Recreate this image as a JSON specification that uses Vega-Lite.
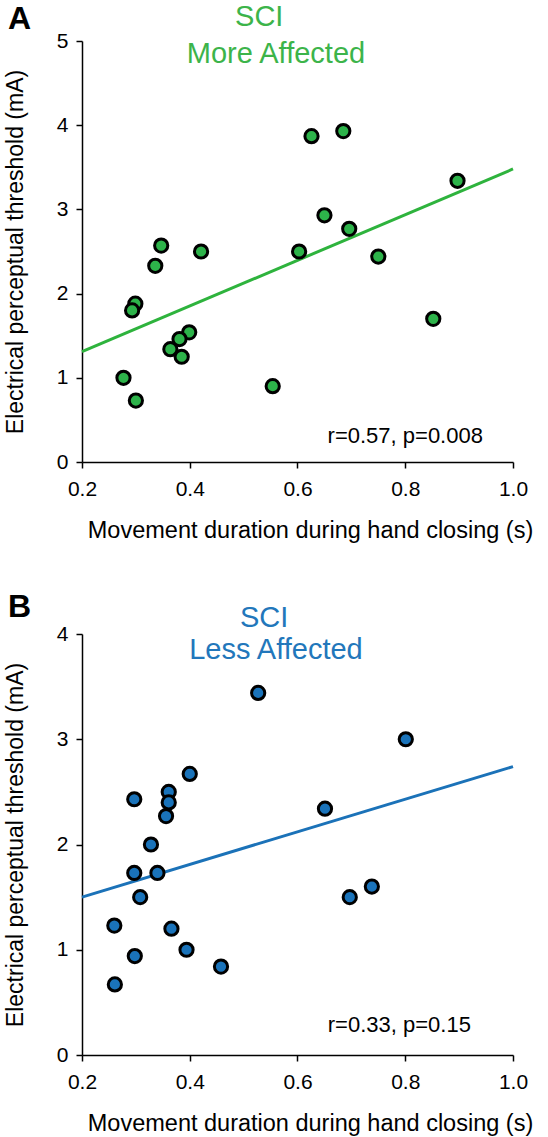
{
  "$schema": "https://vega.github.io/schema/vega-lite/v6.json",
  "background": "white",
  "padding": {"left": 3, "top": 2, "right": 5, "bottom": 5},
  "bounds": "flush",
  "spacing": 172,
  "config": {
    "view": {"stroke": null},
    "font": "Liberation Sans",
    "axis": {
      "grid": false,
      "domainColor": "black",
      "domainWidth": 1.5,
      "tickColor": "black",
      "tickWidth": 1.5,
      "tickSize": 6,
      "labelFont": "Liberation Sans",
      "labelFontSize": 21,
      "labelColor": "black",
      "titleFont": "Liberation Sans",
      "titleFontSize": 23,
      "titleFontWeight": "normal",
      "titleColor": "black"
    }
  },
  "datasets": {
    "pts": [
      {"panel": "A", "dur": 0.347, "thr": 2.57},
      {"panel": "A", "dur": 0.336, "thr": 2.33},
      {"panel": "A", "dur": 0.421, "thr": 2.50},
      {"panel": "A", "dur": 0.603, "thr": 2.50},
      {"panel": "A", "dur": 0.299, "thr": 1.88},
      {"panel": "A", "dur": 0.293, "thr": 1.80},
      {"panel": "A", "dur": 0.399, "thr": 1.54},
      {"panel": "A", "dur": 0.381, "thr": 1.46},
      {"panel": "A", "dur": 0.364, "thr": 1.34},
      {"panel": "A", "dur": 0.385, "thr": 1.25},
      {"panel": "A", "dur": 0.277, "thr": 1.00},
      {"panel": "A", "dur": 0.300, "thr": 0.73},
      {"panel": "A", "dur": 0.554, "thr": 0.90},
      {"panel": "A", "dur": 0.626, "thr": 3.87},
      {"panel": "A", "dur": 0.685, "thr": 3.93},
      {"panel": "A", "dur": 0.897, "thr": 3.34},
      {"panel": "A", "dur": 0.650, "thr": 2.93},
      {"panel": "A", "dur": 0.696, "thr": 2.77},
      {"panel": "A", "dur": 0.750, "thr": 2.44},
      {"panel": "A", "dur": 0.852, "thr": 1.70},
      {"panel": "B", "dur": 0.527, "thr": 3.44},
      {"panel": "B", "dur": 0.400, "thr": 2.67},
      {"panel": "B", "dur": 0.361, "thr": 2.50},
      {"panel": "B", "dur": 0.361, "thr": 2.40},
      {"panel": "B", "dur": 0.356, "thr": 2.27},
      {"panel": "B", "dur": 0.297, "thr": 2.43},
      {"panel": "B", "dur": 0.328, "thr": 2.00},
      {"panel": "B", "dur": 0.297, "thr": 1.73},
      {"panel": "B", "dur": 0.340, "thr": 1.73},
      {"panel": "B", "dur": 0.308, "thr": 1.50},
      {"panel": "B", "dur": 0.260, "thr": 1.23},
      {"panel": "B", "dur": 0.366, "thr": 1.20},
      {"panel": "B", "dur": 0.394, "thr": 1.00},
      {"panel": "B", "dur": 0.298, "thr": 0.94},
      {"panel": "B", "dur": 0.458, "thr": 0.84},
      {"panel": "B", "dur": 0.261, "thr": 0.67},
      {"panel": "B", "dur": 0.801, "thr": 3.00},
      {"panel": "B", "dur": 0.651, "thr": 2.34},
      {"panel": "B", "dur": 0.738, "thr": 1.60},
      {"panel": "B", "dur": 0.697, "thr": 1.50}
    ],
    "fit": [
      {"panel": "A", "dur": 0.2, "thr": 1.31},
      {"panel": "A", "dur": 1.0, "thr": 3.48},
      {"panel": "B", "dur": 0.2, "thr": 1.50},
      {"panel": "B", "dur": 1.0, "thr": 2.74}
    ],
    "ann": [
      {"panel": "A", "kind": "letter", "label": "A", "dur": 0.084, "thr": 5.14},
      {"panel": "A", "kind": "title", "label": "SCI", "dur": 0.529, "thr": 5.18},
      {"panel": "A", "kind": "title", "label": "More Affected", "dur": 0.560, "thr": 4.74},
      {"panel": "A", "kind": "stat", "label": "r=0.57, p=0.008", "dur": 0.80, "thr": 0.23},
      {"panel": "B", "kind": "letter", "label": "B", "dur": 0.084, "thr": 4.16},
      {"panel": "B", "kind": "title", "label": "SCI", "dur": 0.538, "thr": 4.065},
      {"panel": "B", "kind": "title", "label": "Less Affected", "dur": 0.560, "thr": 3.76},
      {"panel": "B", "kind": "stat", "label": "r=0.33, p=0.15", "dur": 0.789, "thr": 0.22}
    ]
  },
  "vconcat": [
    {
      "width": 431,
      "height": 421,
      "encoding": {
        "x": {"field": "dur", "type": "quantitative",
              "scale": {"domain": [0.2, 1.0], "nice": false, "zero": false},
              "axis": {"values": [0.2, 0.4, 0.6, 0.8, 1.0], "format": ".1f", "labelFlush": false, "labelBaseline": "alphabetic", "labelPadding": 27, "title": "Movement duration during hand closing (s)", "titleFontSize": 23.5, "titleBaseline": "alphabetic", "titleY": 75, "titleX": 228}},
        "y": {"field": "thr", "type": "quantitative",
              "scale": {"domain": [0, 5], "nice": false},
              "axis": {"values": [0, 1, 2, 3, 4, 5], "format": "d", "labelPadding": 8, "title": "Electrical perceptual threshold (mA)", "titleBaseline": "alphabetic", "titleX": -60}}
      },
      "layer": [
        {"data": {"name": "fit"}, "transform": [{"filter": "datum.panel === 'A'"}],
         "mark": {"type": "line", "color": "#2eb33d", "strokeWidth": 3}},
        {"data": {"name": "pts"}, "transform": [{"filter": "datum.panel === 'A'"}],
         "mark": {"type": "circle", "size": 175, "fill": "#2db34a", "stroke": "black", "strokeWidth": 3, "opacity": 1}},
        {"data": {"name": "ann"}, "transform": [{"filter": "datum.panel === 'A' && datum.kind === 'letter'"}],
         "mark": {"type": "text", "font": "Liberation Sans", "fontSize": 32, "fontWeight": "bold", "color": "black", "align": "center", "baseline": "alphabetic"},
         "encoding": {"text": {"field": "label"}}},
        {"data": {"name": "ann"}, "transform": [{"filter": "datum.panel === 'A' && datum.kind === 'title'"}],
         "mark": {"type": "text", "font": "Liberation Sans", "fontSize": 29, "color": "#3cb44a", "align": "center", "baseline": "alphabetic"},
         "encoding": {"text": {"field": "label"}}},
        {"data": {"name": "ann"}, "transform": [{"filter": "datum.panel === 'A' && datum.kind === 'stat'"}],
         "mark": {"type": "text", "font": "Liberation Sans", "fontSize": 22, "color": "black", "align": "center", "baseline": "alphabetic"},
         "encoding": {"text": {"field": "label"}}}
      ]
    },
    {
      "width": 431,
      "height": 421,
      "encoding": {
        "x": {"field": "dur", "type": "quantitative",
              "scale": {"domain": [0.2, 1.0], "nice": false, "zero": false},
              "axis": {"values": [0.2, 0.4, 0.6, 0.8, 1.0], "format": ".1f", "labelFlush": false, "labelBaseline": "alphabetic", "labelPadding": 27, "title": "Movement duration during hand closing (s)", "titleFontSize": 23.5, "titleBaseline": "alphabetic", "titleY": 75, "titleX": 228}},
        "y": {"field": "thr", "type": "quantitative",
              "scale": {"domain": [0, 4], "nice": false},
              "axis": {"values": [0, 1, 2, 3, 4], "format": "d", "labelPadding": 8, "title": "Electrical perceptual threshold (mA)", "titleBaseline": "alphabetic", "titleX": -60}}
      },
      "layer": [
        {"data": {"name": "fit"}, "transform": [{"filter": "datum.panel === 'B'"}],
         "mark": {"type": "line", "color": "#1b72b8", "strokeWidth": 3}},
        {"data": {"name": "pts"}, "transform": [{"filter": "datum.panel === 'B'"}],
         "mark": {"type": "circle", "size": 175, "fill": "#1a73ba", "stroke": "black", "strokeWidth": 3, "opacity": 1}},
        {"data": {"name": "ann"}, "transform": [{"filter": "datum.panel === 'B' && datum.kind === 'letter'"}],
         "mark": {"type": "text", "font": "Liberation Sans", "fontSize": 32, "fontWeight": "bold", "color": "black", "align": "center", "baseline": "alphabetic"},
         "encoding": {"text": {"field": "label"}}},
        {"data": {"name": "ann"}, "transform": [{"filter": "datum.panel === 'B' && datum.kind === 'title'"}],
         "mark": {"type": "text", "font": "Liberation Sans", "fontSize": 29, "color": "#2277bb", "align": "center", "baseline": "alphabetic"},
         "encoding": {"text": {"field": "label"}}},
        {"data": {"name": "ann"}, "transform": [{"filter": "datum.panel === 'B' && datum.kind === 'stat'"}],
         "mark": {"type": "text", "font": "Liberation Sans", "fontSize": 22, "color": "black", "align": "center", "baseline": "alphabetic"},
         "encoding": {"text": {"field": "label"}}}
      ]
    }
  ]
}
